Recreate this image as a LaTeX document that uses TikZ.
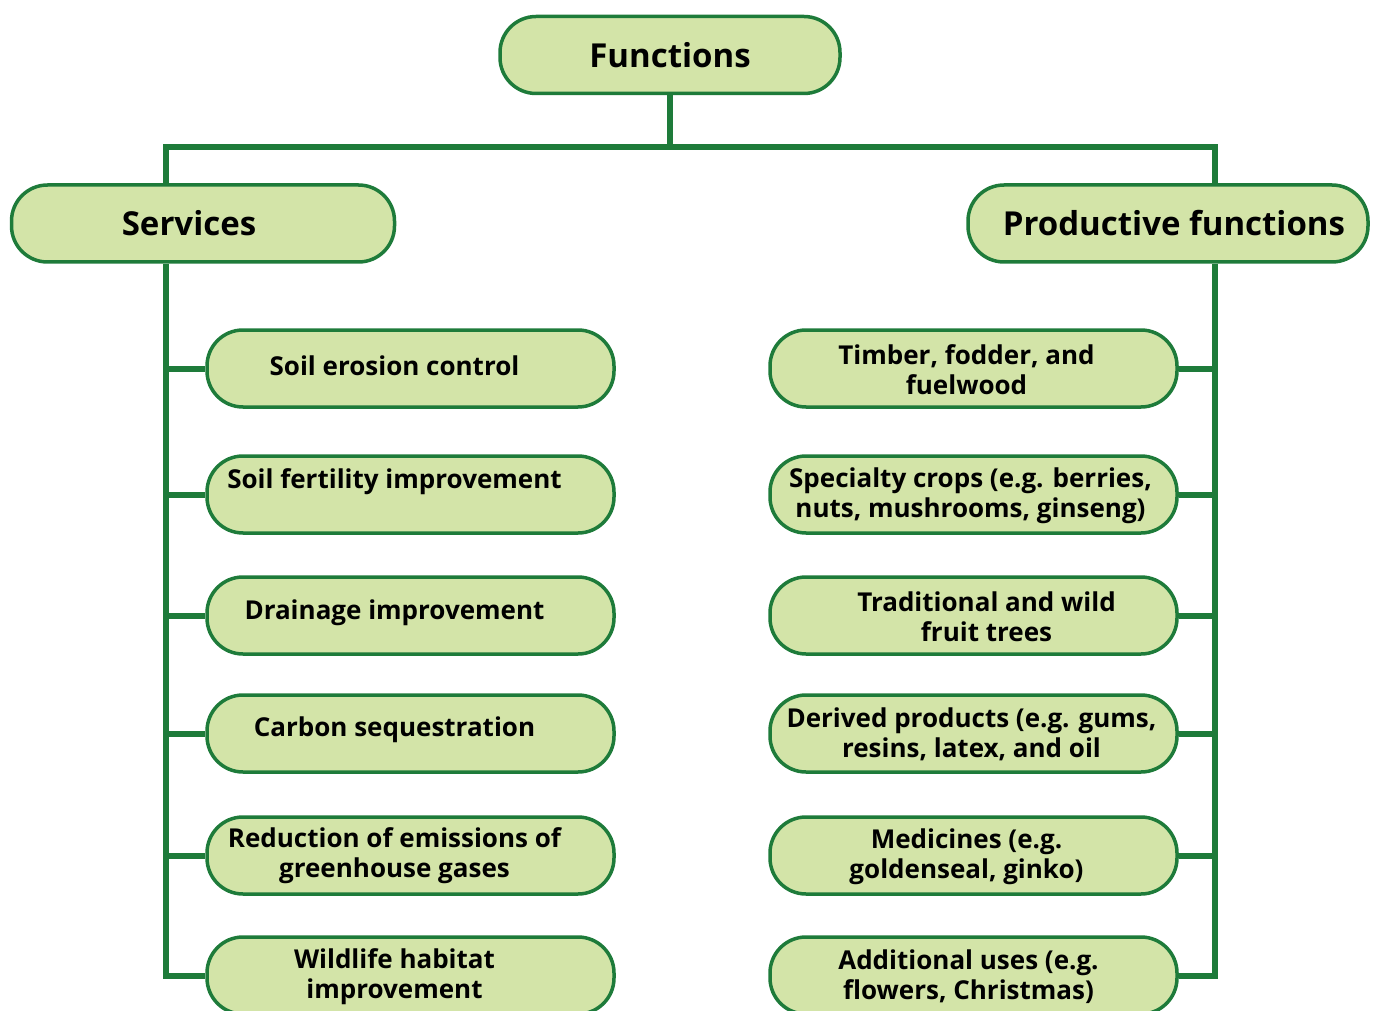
\documentclass[tikz,border=0pt]{standalone}
\usepackage{fontspec}
\setmainfont{Open Sans}
\usetikzlibrary{backgrounds}
\definecolor{lineg}{HTML}{1E7B3A}
\definecolor{boxg}{HTML}{D3E4A8}

\begin{document}
\begin{tikzpicture}[x=1pt,y=-1pt,
  box/.style={draw=lineg,line width=3.5pt,fill=boxg,rounded corners=36pt,
    align=center,inner sep=0pt,minimum height=77pt},
  subbox/.style={box,minimum width=407pt},
  subtxt/.style={align=center,inner sep=0pt,font=\bfseries\fontsize{26}{30}\selectfont},
  headtxt/.style={inner sep=0pt,font=\bfseries\fontsize{33}{38}\selectfont},
  link/.style={draw=lineg,line width=6pt}]
  \useasboundingbox (0,0) rectangle (1377,1011);
  % Top
  \node[box,minimum width=340pt,font=\bfseries\fontsize{33}{38}\selectfont] (fun) at (670,55) {Functions};
  \node[box,minimum width=383pt,label={[headtxt,xshift=-14pt]center:Services}] (serv) at (203,223.5) {};
  \node[box,minimum width=400pt,label={[headtxt,xshift=6pt]center:Productive functions}] (prod) at (1168,223.5) {};
  % Services
  \foreach \i/\y/\dy/\txt in {1/368.5/3/{Soil erosion control},
      2/494.5/13/{Soil fertility improvement},
      3/615.5/3/{Drainage improvement},
      4/733.5/4/{Carbon sequestration},
      5/855.5/0/{Reduction of emissions of\\greenhouse gases},
      6/975.5/-1/{Wildlife habitat\\improvement}}
    \node[subbox,label={[subtxt,xshift=-16pt,yshift=\dy pt]center:\txt}] (s\i) at (410.5,\y) {};
  % Productive functions
  \foreach \i/\y/\dx/\txt in {1/368.5/-7/{Timber, fodder, and\\fuelwood},
      2/494.5/-3/{Specialty crops (e.g. berries,\\nuts, mushrooms, ginseng)},
      3/615.5/13/{Traditional and wild\\fruit trees},
      4/733.5/-2/{Derived products (e.g. gums,\\resins, latex, and oil},
      5/855.5/-7/{Medicines (e.g.\\goldenseal, ginko)},
      6/975.5/-5/{Additional uses (e.g.\\flowers, Christmas)}}
    \node[subbox,label={[subtxt,xshift=\dx pt,yshift=-1pt]center:\txt}] (p\i) at (973.5,\y) {};
  % Connectors
  \coordinate (lt) at (166,147);
  \coordinate (rt) at (1215,147);
  \begin{scope}[on background layer]
    \draw[link] (fun.south) -- (fun.south |- lt);
    \draw[link] (serv.north -| lt) -- (lt) -- (rt) -- (prod.north -| rt);
    \draw[link] (serv.south -| lt) -- (s6.west -| lt) -- (s6.west);
    \draw[link] (prod.south -| rt) -- (p6.east -| rt) -- (p6.east);
    \foreach \i in {1,...,5} {
      \draw[link] (s\i.west -| lt) -- (s\i.west);
      \draw[link] (p\i.east -| rt) -- (p\i.east);
    }
  \end{scope}
\end{tikzpicture}
\end{document}
